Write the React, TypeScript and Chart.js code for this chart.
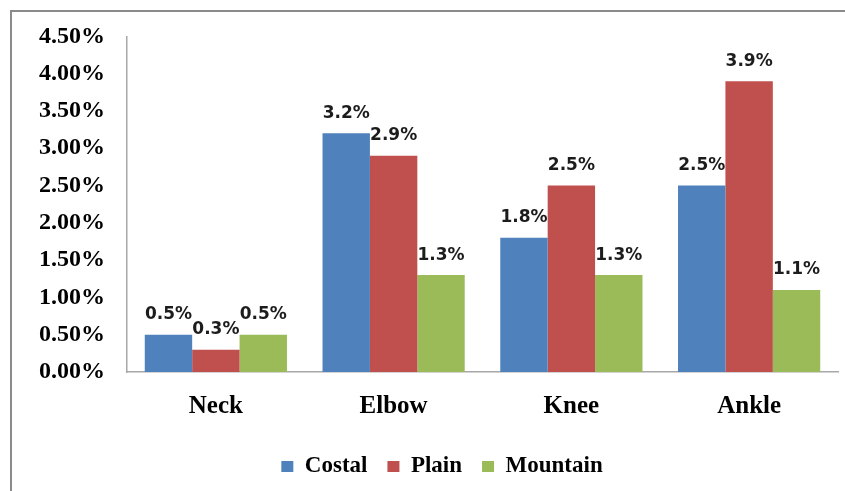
import React, { useEffect, useRef } from "react";
import { Chart, registerables } from "chart.js";

Chart.register(...registerables);

const categories = ["Neck", "Elbow", "Knee", "Ankle"];
const costal = [0.5, 3.2, 1.8, 2.5];
const plain = [0.3, 2.9, 2.5, 3.9];
const mountain = [0.5, 1.3, 1.3, 1.1];
const yMax = 4.5;
const yStep = 0.5;

const SERIF = "'Liberation Serif', 'Times New Roman', serif";
const SANS = "'DejaVu Sans', Verdana, sans-serif";

// White page plus the grey outer frame of the figure
const framePlugin = {
  id: "frame",
  beforeDraw(chart: any) {
    const { ctx, width, height } = chart;
    ctx.save();
    ctx.fillStyle = "#ffffff";
    ctx.fillRect(0, 0, width, height);
    ctx.strokeStyle = "#8a8a8a";
    ctx.lineWidth = 2;
    ctx.strokeRect(11, 11, width + 40, height + 40);
    ctx.restore();
  },
};

// Centre the legend row under the framed figure rather than the full canvas
const legendSpanPlugin = {
  id: "legendSpan",
  afterLayout(chart: any) {
    const lg = chart.legend;
    if (!lg) return;
    lg.left = 46;
    lg.right = 838;
    lg.width = lg.right - lg.left;
  },
};

// Value labels above every bar
const valueLabelPlugin = {
  id: "valueLabels",
  afterDatasetsDraw(chart: any) {
    const { ctx } = chart;
    ctx.save();
    ctx.font = `bold 17px ${SANS}`;
    ctx.fillStyle = "#1c1c1c";
    ctx.textAlign = "center";
    ctx.textBaseline = "alphabetic";
    chart.data.datasets.forEach((ds: any, di: number) => {
      const meta = chart.getDatasetMeta(di);
      meta.data.forEach((bar: any, i: number) => {
        const v = ds.data[i] as number;
        ctx.fillText(v.toFixed(1) + "%", bar.x, bar.y - 15.5);
      });
    });
    ctx.restore();
  },
};

export default function App() {
  const canvasRef = useRef<HTMLCanvasElement | null>(null);

  useEffect(() => {
    if (!canvasRef.current) return;
    const chart = new Chart(canvasRef.current, {
      type: "bar",
      data: {
        labels: categories,
        datasets: [
          { label: "Costal", data: costal, backgroundColor: "#4F81BD" },
          { label: "Plain", data: plain, backgroundColor: "#C0504D" },
          { label: "Mountain", data: mountain, backgroundColor: "#9BBB59" },
        ],
      },
      options: {
        animation: false,
        responsive: false,
        maintainAspectRatio: false,
        layout: { padding: { top: 36, right: 7, left: 20, bottom: 3 } },
        datasets: {
          bar: { barPercentage: 1, categoryPercentage: 0.8, borderWidth: 0 },
        },
        scales: {
          x: {
            grid: { display: false, drawTicks: false },
            border: { display: true, color: "#a8a8a8", width: 1.5 },
            ticks: {
              padding: 20,
              color: "#000",
              font: { family: SERIF, size: 25, weight: "bold" },
            },
            afterFit(scale: any) {
              scale.height = 63;
            },
          },
          y: {
            min: 0,
            max: yMax,
            grid: { display: false, drawTicks: false },
            border: { display: true, color: "#a8a8a8", width: 1.5 },
            ticks: {
              stepSize: yStep,
              padding: 22,
              color: "#000",
              font: { family: SERIF, size: 24, weight: "bold" },
              callback: (v: any) => Number(v).toFixed(2) + "%",
            },
            afterFit(scale: any) {
              scale.width = 107;
            },
          },
        },
        plugins: {
          legend: {
            position: "bottom",
            labels: {
              boxWidth: 12,
              boxHeight: 11,
              padding: 20,
              color: "#000",
              font: { family: SERIF, size: 23, weight: "bold" },
            },
          },
          tooltip: { enabled: false },
        },
      },
      plugins: [framePlugin, legendSpanPlugin, valueLabelPlugin],
    });
    return () => chart.destroy();
  }, []);

  return (
    <div style={{ position: "fixed", left: 0, top: 0, width: 845, height: 491, background: "#fff" }}>
      <canvas ref={canvasRef} width={845} height={491} style={{ width: 845, height: 491, display: "block" }} />
    </div>
  );
}
